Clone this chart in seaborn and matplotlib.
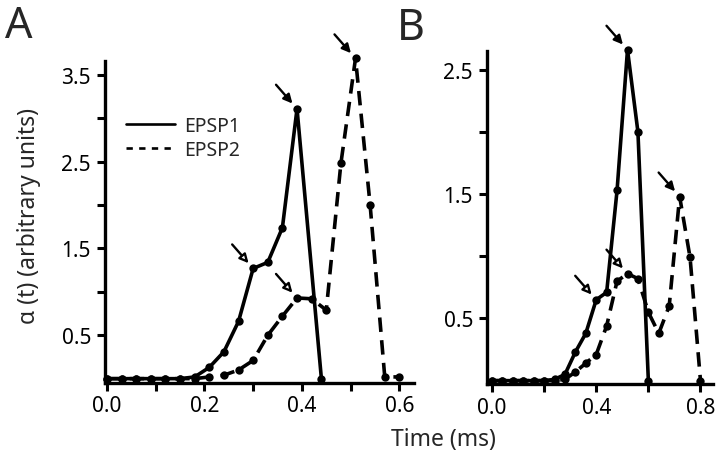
import numpy as np
import pandas as pd
import matplotlib
matplotlib.use("Agg")
import matplotlib.pyplot as plt
from matplotlib.lines import Line2D
import seaborn as sns

# ---------------- data ----------------
# Panel A
a_t1 = [0.0, 0.03, 0.06, 0.09, 0.12, 0.15, 0.18, 0.21, 0.24, 0.27, 0.30, 0.33, 0.36, 0.39, 0.44]
a_v1 = [0.0, 0.0, 0.0, 0.0, 0.0, 0.0, 0.02, 0.13, 0.31, 0.66, 1.27, 1.34, 1.74, 3.11, 0.0]
a_t2 = [0.0, 0.03, 0.06, 0.09, 0.12, 0.15, 0.18, 0.21, 0.24, 0.27, 0.30, 0.33, 0.36,
        0.39, 0.42, 0.45, 0.48, 0.51, 0.54, 0.57, 0.60]
a_v2 = [0.0, 0.0, 0.0, 0.0, 0.0, 0.0, 0.0, 0.02, 0.04, 0.10, 0.21, 0.50, 0.72,
        0.93, 0.92, 0.79, 2.48, 3.69, 2.0, 0.02, 0.02]
# Panel B
b_t1 = [0.0, 0.04, 0.08, 0.12, 0.16, 0.20, 0.24, 0.28, 0.32, 0.36, 0.40, 0.44, 0.48, 0.52, 0.56, 0.60]
b_v1 = [0.0, 0.0, 0.0, 0.0, 0.0, 0.0, 0.01, 0.05, 0.23, 0.38, 0.65, 0.71, 1.53, 2.66, 2.0, 0.0]
b_t2 = [0.0, 0.04, 0.08, 0.12, 0.16, 0.20, 0.24, 0.28, 0.32, 0.36, 0.40, 0.44, 0.48,
        0.52, 0.56, 0.60, 0.64, 0.68, 0.72, 0.76, 0.80]
b_v2 = [0.0, 0.0, 0.0, 0.0, 0.0, 0.0, 0.0, 0.01, 0.07, 0.14, 0.21, 0.44, 0.80,
        0.86, 0.82, 0.55, 0.38, 0.60, 1.48, 0.99, 0.0]

# arrows: (t, value) of pointed points
a_filled = [(0.39, 3.11), (0.51, 3.69)]
a_open = [(0.30, 1.27), (0.39, 0.93)]
b_filled = [(0.52, 2.66), (0.72, 1.48)]
b_open = [(0.40, 0.65), (0.52, 0.86)]

a_xticks = [0.0, 0.1, 0.2, 0.3, 0.4, 0.5, 0.6]
a_xlabels = ["0.0", "", "0.2", "", "0.4", "", "0.6"]
a_yticks = [0.5, 1.0, 1.5, 2.0, 2.5, 3.0, 3.5]
a_ylabels = ["0.5", "", "1.5", "", "2.5", "", "3.5"]
b_xticks = [0.0, 0.2, 0.4, 0.6, 0.8]
b_xlabels = ["0.0", "", "0.4", "", "0.8"]
b_yticks = [0.5, 1.0, 1.5, 2.0, 2.5]
b_ylabels = ["0.5", "", "1.5", "", "2.5"]

series_names = ["EPSP1", "EPSP2"]

# ---------------- style ----------------
sns.set_theme(style="ticks")
plt.rcParams["font.family"] = ["Noto Sans", "DejaVu Sans"]
FS = 15
LW = 2.6

fig = plt.figure(figsize=(7.2, 4.6), dpi=100)
W, H = 720, 460

def px_axes(l, t, r, b):
    return fig.add_axes([l / W, 1 - b / H, (r - l) / W, (b - t) / H])

axA = px_axes(105, 62, 414, 384)
axB = px_axes(487, 52, 713, 385)

dash = (0, (4.0, 2.3))

def draw(ax, t1, v1, t2, v2):
    sns.lineplot(x=t1, y=v1, ax=ax, color="black", lw=LW, marker="o",
                 markersize=6, markeredgewidth=0, sort=False, estimator=None,
                 clip_on=False)
    sns.lineplot(x=t2, y=v2, ax=ax, color="black", lw=LW, marker="o",
                 markersize=6, markeredgewidth=0, sort=False, estimator=None,
                 linestyle=dash, clip_on=False)

def arrows(ax, pts, filled):
    for (x, y) in pts:
        ax.annotate("", xy=(x, y), xycoords="data",
                    xytext=(-21, 24), textcoords="offset pixels",
                    annotation_clip=False,
                    arrowprops=dict(arrowstyle="-|>", lw=1.7,
                                    mutation_scale=13,
                                    fc="black" if filled else "white",
                                    ec="black", shrinkA=0, shrinkB=5))

draw(axA, a_t1, a_v1, a_t2, a_v2)
draw(axB, b_t1, b_v1, b_t2, b_v2)
arrows(axA, a_filled, True)
arrows(axA, a_open, False)
arrows(axB, b_filled, True)
arrows(axB, b_open, False)

axA.set_xlim(-0.004, 0.63)
axA.set_ylim(-0.05, 3.66)
axB.set_xlim(-0.019, 0.848)
axB.set_ylim(-0.027, 2.65)

for ax, xt, xl, yt, yl in [(axA, a_xticks, a_xlabels, a_yticks, a_ylabels),
                           (axB, b_xticks, b_xlabels, b_yticks, b_ylabels)]:
    ax.set_xticks(xt)
    ax.set_xticklabels(xl)
    ax.set_yticks(yt)
    ax.set_yticklabels(yl)
    sns.despine(ax=ax)
    for s in ["left", "bottom"]:
        ax.spines[s].set_linewidth(2.4)
        ax.spines[s].set_color("black")
    ax.tick_params(axis="both", length=6, width=2.2, color="black",
                   labelsize=FS, labelcolor="black", direction="out")
    ax.tick_params(axis="x", pad=3)
    ax.tick_params(axis="y", pad=4)
    ax.set_xlabel("")
    ax.set_ylabel("")
    ax.set_facecolor("white")

handles = [Line2D([], [], color="black", lw=1.9),
           Line2D([], [], color="black", lw=1.9, linestyle=(0, (2.4, 2.4)))]
axA.legend(handles, series_names, loc="upper left",
           bbox_to_anchor=(0.068, 0.83), frameon=False, fontsize=14,
           handlelength=2.5, handletextpad=0.5, borderpad=0,
           borderaxespad=0, labelspacing=0.2)

fig.text(5 / W, 1 - 38 / H, "A", fontsize=31, va="baseline", ha="left")
fig.text(397 / W, 1 - 40 / H, "B", fontsize=31, va="baseline", ha="left")
fig.text(29 / W, 1 - 216 / H, "α (t) (arbitrary units)", rotation=90,
         fontsize=16.5, va="center", ha="center")
fig.text(443 / W, 1 - 440 / H, "Time (ms)", fontsize=16.5,
         va="center", ha="center")

fig.savefig("out.png", dpi=100, facecolor="white")
